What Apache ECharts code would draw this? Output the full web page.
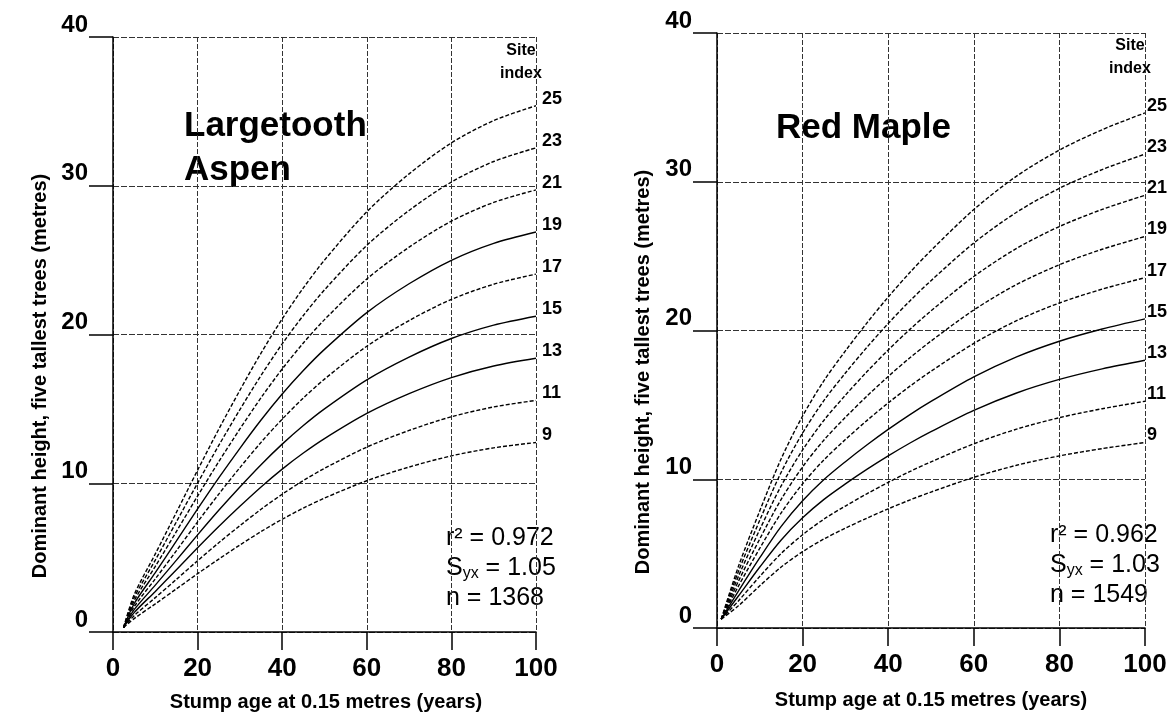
<!DOCTYPE html>
<html>
<head>
<meta charset="utf-8">
<script src="https://cdn.jsdelivr.net/npm/echarts@6/dist/echarts.min.js"></script>
</head>
<body style="margin:0;background:#fff">
<div id="main" style="width:1176px;height:716px;"></div>
<script type="text/javascript">
    var agesAspen = [2.5, 5, 10, 15, 20, 25, 30, 35, 40, 45, 50, 60, 70, 80, 90, 100];
    var agesMaple = [1, 5, 10, 15, 20, 25, 30, 35, 40, 45, 50, 60, 70, 80, 90, 100];
    var xTicks = [0, 20, 40, 60, 80, 100];
    var yTicks = [0, 10, 20, 30, 40];

    // Largetooth Aspen, height (m) by site index
    var aspen25 = [0.3, 2.5, 5.25, 8.05, 10.88, 13.63, 16.25, 18.75, 21.05, 23.13, 25.0, 28.25, 30.8, 32.88, 34.38, 35.38];
    var aspen23 = [0.3, 2.3, 4.83, 7.41, 10.01, 12.54, 14.95, 17.25, 19.37, 21.28, 23.0, 25.99, 28.34, 30.25, 31.63, 32.55];
    var aspen21 = [0.3, 2.1, 4.41, 6.76, 9.14, 11.45, 13.65, 15.75, 17.68, 19.43, 21.0, 23.73, 25.87, 27.62, 28.88, 29.72];
    var aspen19 = [0.3, 1.9, 3.99, 6.12, 8.27, 10.36, 12.35, 14.25, 16.0, 17.58, 19.0, 21.47, 23.41, 24.99, 26.13, 26.89];
    var aspen17 = [0.3, 1.7, 3.57, 5.47, 7.4, 9.27, 11.05, 12.75, 14.31, 15.73, 17.0, 19.21, 20.94, 22.36, 23.38, 24.06];
    var aspen15 = [0.3, 1.5, 3.15, 4.83, 6.53, 8.18, 9.75, 11.25, 12.63, 13.88, 15.0, 16.95, 18.48, 19.73, 20.63, 21.23];
    var aspen13 = [0.3, 1.3, 2.73, 4.19, 5.66, 7.09, 8.45, 9.75, 10.95, 12.03, 13.0, 14.69, 16.02, 17.1, 17.88, 18.4];
    var aspen11 = [0.3, 1.1, 2.31, 3.54, 4.79, 6.0, 7.15, 8.25, 9.26, 10.18, 11.0, 12.43, 13.55, 14.47, 15.13, 15.57];
    var aspen9  = [0.3, 0.9, 1.89, 2.9, 3.92, 4.9, 5.85, 6.75, 7.58, 8.33, 9.0, 10.17, 11.09, 11.84, 12.38, 12.74];

    // Red Maple, height (m) by site index
    var maple25 = [0.6, 4.13, 7.88, 11.38, 14.25, 16.63, 18.63, 20.5, 22.25, 23.88, 25.38, 28.13, 30.38, 32.13, 33.5, 34.63];
    var maple23 = [0.6, 3.8, 7.25, 10.47, 13.11, 15.3, 17.14, 18.86, 20.47, 21.97, 23.35, 25.88, 27.95, 29.56, 30.82, 31.86];
    var maple21 = [0.6, 3.47, 6.62, 9.56, 11.97, 13.97, 15.65, 17.22, 18.69, 20.06, 21.32, 23.63, 25.52, 26.99, 28.14, 29.09];
    var maple19 = [0.6, 3.14, 5.99, 8.65, 10.83, 12.64, 14.16, 15.58, 16.91, 18.15, 19.29, 21.38, 23.09, 24.42, 25.46, 26.32];
    var maple17 = [0.6, 2.81, 5.36, 7.74, 9.69, 11.31, 12.67, 13.94, 15.13, 16.24, 17.26, 19.13, 20.66, 21.85, 22.78, 23.55];
    var maple15 = [0.6, 2.48, 4.73, 6.83, 8.55, 9.98, 11.18, 12.3, 13.35, 14.33, 15.23, 16.88, 18.23, 19.28, 20.1, 20.78];
    var maple13 = [0.6, 2.15, 4.1, 5.92, 7.41, 8.65, 9.69, 10.66, 11.57, 12.42, 13.2, 14.63, 15.8, 16.71, 17.42, 18.0];
    var maple11 = [0.6, 1.82, 3.47, 5.01, 6.27, 7.32, 8.2, 9.02, 9.79, 10.51, 11.17, 12.38, 13.37, 14.14, 14.74, 15.24];
    var maple9  = [0.6, 1.49, 2.84, 4.1, 5.13, 5.99, 6.71, 7.38, 8.01, 8.6, 9.14, 10.13, 10.94, 11.57, 12.06, 12.47];

    var siteIndex = [25, 23, 21, 19, 17, 15, 13, 11, 9];
    var aspenCurves = [aspen25, aspen23, aspen21, aspen19, aspen17, aspen15, aspen13, aspen11, aspen9];
    var mapleCurves = [maple25, maple23, maple21, maple19, maple17, maple15, maple13, maple11, maple9];
    var aspenSolid = [19, 15, 13];
    var mapleSolid = [15, 13];

    var FONT = "'Liberation Sans', Arial, sans-serif";

    var myChart = echarts.init(document.getElementById('main'));

    function pairs(ages, h) {
        return ages.map(function (a, i) { return [a, h[i]]; });
    }

    function makeSeries(ages, curves, solid, idx, dist) {
        return curves.map(function (h, i) {
            var si = siteIndex[i];
            return {
                type: 'line',
                xAxisIndex: idx,
                yAxisIndex: idx,
                data: pairs(ages, h),
                smooth: 0.3,
                symbol: 'none',
                silent: true,
                lineStyle: {
                    color: '#000',
                    width: 1.4,
                    type: solid.indexOf(si) >= 0 ? 'solid' : [4, 2]
                },
                endLabel: {
                    show: true,
                    formatter: String(si),
                    distance: dist,
                    offset: [0, -7],
                    color: '#000',
                    fontFamily: FONT,
                    fontWeight: 'bold',
                    fontSize: 18
                }
            };
        });
    }

    function xAx(idx) {
        return {
            type: 'value', gridIndex: idx, min: 0, max: 100, interval: 20,
            axisLine: {lineStyle: {color: '#000', width: 1.5}},
            axisTick: {show: true, length: 18, lineStyle: {color: '#000', width: 1.5}},
            axisLabel: {margin: 24, color: '#000', fontFamily: FONT, fontWeight: 'bold', fontSize: 26},
            splitLine: {show: true, lineStyle: {color: '#333', width: 1, type: [5, 2]}}
        };
    }

    function yAx(idx) {
        return {
            type: 'value', gridIndex: idx, min: 0, max: 40, interval: 10,
            axisLine: {show: true, lineStyle: {color: '#000', width: 1.5}},
            axisTick: {show: true, length: 24, lineStyle: {color: '#000', width: 1.5}},
            axisLabel: {margin: 25, color: '#000', fontFamily: FONT, fontWeight: 'bold', fontSize: 24,
                verticalAlign: 'bottom'},
            splitLine: {show: true, lineStyle: {color: '#333', width: 1, type: [6, 2]}}
        };
    }

    function txt(x, y, text, size, bold, align, extra) {
        var o = {
            type: 'text', x: x, y: y, silent: true,
            style: {
                text: text, fill: '#000', fontFamily: FONT, fontSize: size,
                fontWeight: bold ? 'bold' : 'normal', align: align || 'left', verticalAlign: 'middle'
            }
        };
        if (extra) { for (var k in extra) o.style[k] = extra[k]; }
        return o;
    }

    var statRich = {
        m: {fontSize: 25, fontFamily: FONT},
        sub: {fontSize: 16, fontFamily: FONT, padding: [12, 0, 0, 0]}
    };

    var option = {
        animation: false,
        backgroundColor: '#fff',
        grid: [
            {left: 113, top: 37, width: 423, height: 595},
            {left: 717, top: 33, width: 428, height: 595}
        ],
        xAxis: [xAx(0), xAx(1)],
        yAxis: [yAx(0), yAx(1)],
        series: makeSeries(agesAspen, aspenCurves, aspenSolid, 0, 6)
            .concat(makeSeries(agesMaple, mapleCurves, mapleSolid, 1, 2)),
        graphic: [
            // panel titles
            txt(184, 126, 'Largetooth', 35, true),
            txt(184, 170, 'Aspen', 35, true),
            txt(776, 128, 'Red Maple', 35, true),
            // site index headers
            txt(521, 51, 'Site', 16, true, 'center'),
            txt(521, 74, 'index', 16, true, 'center'),
            txt(1130, 46, 'Site', 16, true, 'center'),
            txt(1130, 69, 'index', 16, true, 'center'),
            // fit statistics
            txt(446, 538, 'r² = 0.972', 25, false),
            txt(446, 568, '{m|S}{sub|yx}{m| = 1.05}', 25, false, 'left', {rich: statRich}),
            txt(446, 598, 'n = 1368', 25, false),
            txt(1050, 535, 'r² = 0.962', 25, false),
            txt(1050, 565, '{m|S}{sub|yx}{m| = 1.03}', 25, false, 'left', {rich: statRich}),
            txt(1050, 595, 'n = 1549', 25, false),
            // axis titles
            txt(326, 702, 'Stump age at 0.15 metres (years)', 20, true, 'center'),
            txt(931, 700, 'Stump age at 0.15 metres (years)', 20, true, 'center'),
            {
                type: 'text', x: 40, y: 376, rotation: Math.PI / 2, silent: true,
                style: {text: 'Dominant height, five tallest trees (metres)', fill: '#000', fontFamily: FONT,
                    fontSize: 20, fontWeight: 'bold', align: 'center', verticalAlign: 'middle'}
            },
            {
                type: 'text', x: 643, y: 372, rotation: Math.PI / 2, silent: true,
                style: {text: 'Dominant height, five tallest trees (metres)', fill: '#000', fontFamily: FONT,
                    fontSize: 20, fontWeight: 'bold', align: 'center', verticalAlign: 'middle'}
            }
        ]
    };

    myChart.setOption(option);
</script>
</body>
</html>
